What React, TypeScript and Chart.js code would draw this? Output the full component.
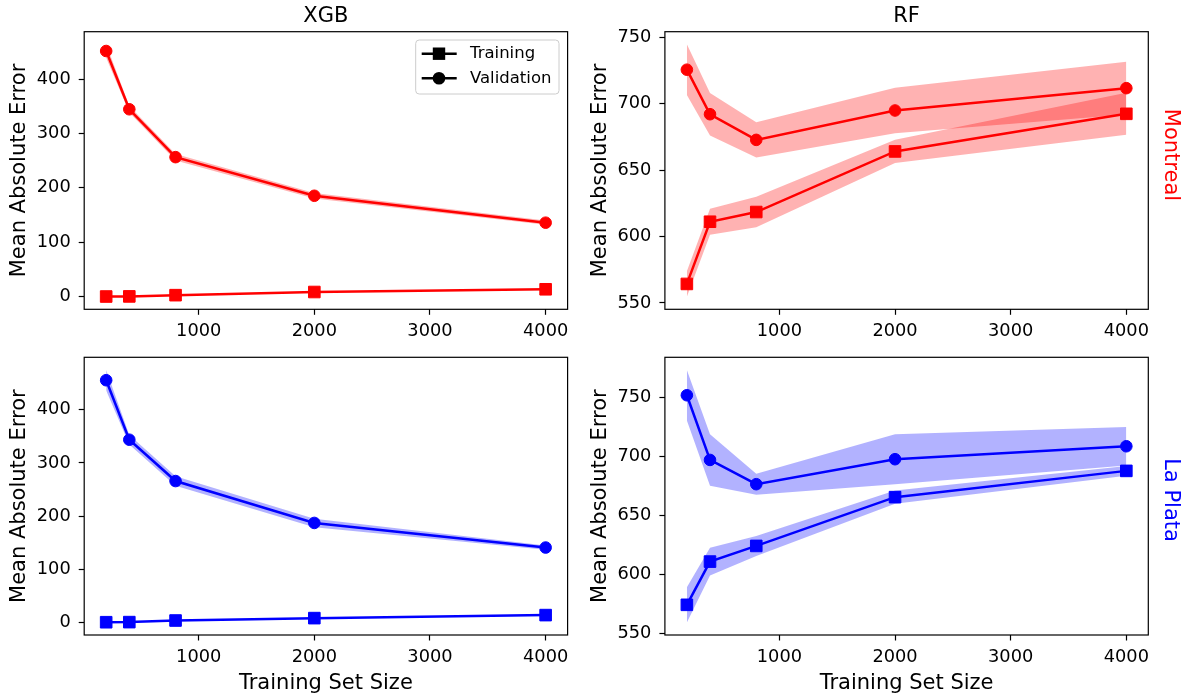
import { useEffect, useRef } from "react";
import { Chart, registerables } from "chart.js";

Chart.register(...registerables);

const FONT = '"DejaVu Sans", "Liberation Sans", sans-serif';

// Training-set sizes on the x axis and the ticks shown for each axis
const trainSizes = [200, 400, 800, 2000, 4000];
const xTicks = [1000, 2000, 3000, 4000];
const xgbTicks = [0, 100, 200, 300, 400];
const rfTicks = [550, 600, 650, 700, 750];

// Montreal: mean absolute error and its standard deviation
const xgbMtlTrain = [0.3, 0.5, 2.8, 8.6, 13.6];
const xgbMtlTrainSd = [0.3, 0.3, 0.5, 0.8, 1.0];
const xgbMtlVal = [451.6, 344.5, 256.5, 185.5, 136.0];
const xgbMtlValSd = [12.3, 6, 6, 5, 4];
const rfMtlTrain = [564.3, 611.1, 618.4, 664.0, 692.3];
const rfMtlTrainSd = [9.6, 9.8, 11.5, 8.8, 15.8];
const rfMtlVal = [725.5, 692.0, 672.7, 694.8, 711.6];
const rfMtlValSd = [19.1, 16.0, 13.3, 17.1, 19.8];

// La Plata: mean absolute error and its standard deviation
const xgbLpTrain = [0.3, 0.5, 3.5, 8.0, 13.7];
const xgbLpTrainSd = [0.3, 0.3, 0.5, 0.8, 1.0];
const xgbLpVal = [455.6, 343.7, 265.9, 187.1, 140.8];
const xgbLpValSd = [19.4, 9, 9, 8, 4];
const rfLpTrain = [574.1, 610.8, 624.1, 665.5, 687.8];
const rfLpTrainSd = [14.9, 11.8, 8.5, 5.6, 4.2];
const rfLpVal = [752.0, 697.1, 676.5, 697.7, 708.7];
const rfLpValSd = [21.5, 21.9, 8.9, 21.2, 16.3];

type Panel = {
  frame: [number, number, number, number]; // plot area: left, top, right, bottom
  color: string;
  band: string;
  train: number[];
  trainSd: number[];
  val: number[];
  valSd: number[];
  yTicks: number[];
  title?: string;
  xLabel?: string;
  rowLabel?: string;
  rowLabelY?: number;
  legend?: boolean;
};

const RED = "#ff0000";
const BLUE = "#0000ff";
const RED_BAND = "rgba(255,0,0,0.3)";
const BLUE_BAND = "rgba(0,0,255,0.3)";

const panels: Panel[] = [
  {
    frame: [84.2, 31.7, 567.6, 309.3],
    color: RED, band: RED_BAND,
    train: xgbMtlTrain, trainSd: xgbMtlTrainSd, val: xgbMtlVal, valSd: xgbMtlValSd,
    yTicks: xgbTicks, title: "XGB", legend: true,
  },
  {
    frame: [664.9, 31.7, 1148.3, 309.3],
    color: RED, band: RED_BAND,
    train: rfMtlTrain, trainSd: rfMtlTrainSd, val: rfMtlVal, valSd: rfMtlValSd,
    yTicks: rfTicks, title: "RF", rowLabel: "Montreal", rowLabelY: 155,
  },
  {
    frame: [84.2, 357.3, 567.6, 635],
    color: BLUE, band: BLUE_BAND,
    train: xgbLpTrain, trainSd: xgbLpTrainSd, val: xgbLpVal, valSd: xgbLpValSd,
    yTicks: xgbTicks, xLabel: "Training Set Size",
  },
  {
    frame: [664.9, 357.3, 1148.3, 635],
    color: BLUE, band: BLUE_BAND,
    train: rfLpTrain, trainSd: rfLpTrainSd, val: rfLpVal, valSd: rfLpValSd,
    yTicks: rfTicks, xLabel: "Training Set Size", rowLabel: "La Plata", rowLabelY: 500,
  },
];

const W = 1186;
const H = 696;
const Y_AXIS_W = 60;
const X_AXIS_H = 30;

function shift(a: number[], s: number[], k: number) {
  return a.map((v, i) => v + k * s[i]);
}

function PanelChart({ p }: { p: Panel }) {
  const ref = useRef<HTMLCanvasElement>(null);

  useEffect(() => {
    if (!ref.current) return;
    const [L, T, R, B] = p.frame;
    const pts = (ys: number[]) => trainSizes.map((x, i) => ({ x, y: ys[i] }));

    const trainHi = shift(p.train, p.trainSd, 1);
    const trainLo = shift(p.train, p.trainSd, -1);
    const valHi = shift(p.val, p.valSd, 1);
    const valLo = shift(p.val, p.valSd, -1);

    // autoscale with 5% margins on both axes
    const yMin0 = Math.min(...trainLo, ...valLo);
    const yMax0 = Math.max(...trainHi, ...valHi);
    const yPad = 0.05 * (yMax0 - yMin0);
    const xMin0 = Math.min(...trainSizes);
    const xMax0 = Math.max(...trainSizes);
    const xPad = 0.05 * (xMax0 - xMin0);

    const bandSet = (data: number[], fill: any) => ({
      data: pts(data),
      fill,
      backgroundColor: p.band,
      borderColor: "rgba(0,0,0,0)",
      borderWidth: 1,
      pointRadius: 0,
      order: 1,
    });

    const lineSet = (label: string, data: number[], style: string, radius: number) => ({
      label,
      data: pts(data),
      fill: false,
      borderColor: p.color,
      backgroundColor: p.color,
      borderWidth: 2.5,
      pointStyle: style,
      pointRadius: radius,
      pointBorderWidth: 1,
      pointBackgroundColor: p.color,
      pointBorderColor: p.color,
      tension: 0,
      order: 0,
    });

    const textPlugin = {
      id: "panelText",
      afterDraw(chart: any) {
        const ctx = chart.ctx as CanvasRenderingContext2D;
        const { left, top, right, bottom } = chart.chartArea;
        const cx = (left + right) / 2;
        const cy = (top + bottom) / 2;
        ctx.save();

        // axes frame
        ctx.strokeStyle = "#000";
        ctx.lineWidth = 1.2;
        ctx.strokeRect(left, top, right - left, bottom - top);

        ctx.fillStyle = "#000";
        ctx.font = `21px ${FONT}`;
        ctx.textBaseline = "alphabetic";
        ctx.textAlign = "center";

        if (p.title) ctx.fillText(p.title, cx, top - 10.2);
        if (p.xLabel) ctx.fillText(p.xLabel, cx, bottom + 53.5);

        ctx.save();
        ctx.translate(left - 59, cy);
        ctx.rotate(-Math.PI / 2);
        ctx.fillText("Mean Absolute Error", 0, 0);
        ctx.restore();

        if (p.rowLabel) {
          ctx.save();
          ctx.translate(right + 16.2, p.rowLabelY ?? cy);
          ctx.rotate(Math.PI / 2);
          ctx.fillStyle = p.color;
          ctx.fillText(p.rowLabel, 0, 0);
          ctx.restore();
        }

        if (p.legend) {
          const bx = right - 8.6 - 143.3;
          const by = top + 8.3;
          const bw = 143.3;
          const bh = 54;
          ctx.beginPath();
          if ((ctx as any).roundRect) (ctx as any).roundRect(bx, by, bw, bh, 3.5);
          else ctx.rect(bx, by, bw, bh);
          ctx.fillStyle = "rgba(255,255,255,0.8)";
          ctx.fill();
          ctx.strokeStyle = "#cccccc";
          ctx.lineWidth = 1;
          ctx.stroke();

          const entries = [
            { label: "Training", marker: "square", y: by + 13.7 },
            { label: "Validation", marker: "circle", y: by + 38.3 },
          ];
          for (const e of entries) {
            ctx.strokeStyle = "#000";
            ctx.lineWidth = 2.5;
            ctx.beginPath();
            ctx.moveTo(bx + 6, e.y);
            ctx.lineTo(bx + 41, e.y);
            ctx.stroke();
            ctx.fillStyle = "#000";
            const mx = bx + 23.3;
            if (e.marker === "square") {
              ctx.fillRect(mx - 6.2, e.y - 6.2, 12.4, 12.4);
            } else {
              ctx.beginPath();
              ctx.arc(mx, e.y, 6.3, 0, Math.PI * 2);
              ctx.fill();
            }
            ctx.font = `16.5px ${FONT}`;
            ctx.textAlign = "left";
            ctx.textBaseline = "middle";
            ctx.fillText(e.label, bx + 54.3, e.y);
          }
        }
        ctx.restore();
      },
    };

    const tickFont = { family: FONT, size: 17.8 };
    const gridOpts = {
      display: true,
      drawOnChartArea: false,
      drawTicks: true,
      tickLength: 5.5,
      tickWidth: 1.2,
      tickColor: "#000",
    };

    const chart = new Chart(ref.current, {
      type: "line",
      data: {
        datasets: [
          lineSet("Training", p.train, "rect", 8.2),
          lineSet("Validation", p.val, "circle", 5.8),
          bandSet(trainHi, "+1"),
          bandSet(trainLo, false),
          bandSet(valHi, "+1"),
          bandSet(valLo, false),
        ] as any,
      },
      options: {
        responsive: false,
        animation: false,
        devicePixelRatio: 1,
        events: [],
        layout: {
          padding: {
            left: L - Y_AXIS_W,
            top: T,
            right: W - R,
            bottom: H - B - X_AXIS_H,
          },
        },
        plugins: {
          legend: { display: false },
          tooltip: { enabled: false },
          title: { display: false },
        },
        scales: {
          x: {
            type: "linear",
            min: xMin0 - xPad,
            max: xMax0 + xPad,
            afterBuildTicks: (s: any) => {
              s.ticks = xTicks.map((v) => ({ value: v }));
            },
            afterFit: (s: any) => {
              s.height = X_AXIS_H;
              s.paddingLeft = 0;
              s.paddingRight = 0;
            },
            grid: gridOpts,
            border: { display: false },
            ticks: {
              color: "#000",
              font: tickFont,
              padding: 6,
              maxRotation: 0,
              autoSkip: false,
              callback: (v: any) => String(v),
            },
          },
          y: {
            type: "linear",
            min: yMin0 - yPad,
            max: yMax0 + yPad,
            afterBuildTicks: (s: any) => {
              s.ticks = p.yTicks.map((v) => ({ value: v }));
            },
            afterFit: (s: any) => {
              s.width = Y_AXIS_W;
              s.paddingTop = 0;
              s.paddingBottom = 0;
            },
            grid: gridOpts,
            border: { display: false },
            ticks: {
              color: "#000",
              font: tickFont,
              padding: 8,
              autoSkip: false,
              callback: (v: any) => String(v),
            },
          },
        },
      } as any,
      plugins: [textPlugin],
    });

    return () => chart.destroy();
  }, [p]);

  return (
    <canvas
      ref={ref}
      width={W}
      height={H}
      style={{ position: "absolute", left: 0, top: 0, width: W, height: H, display: "block" }}
    />
  );
}

export default function App() {
  return (
    <div
      style={{
        position: "absolute",
        left: 0,
        top: 0,
        width: W,
        height: H,
        background: "#ffffff",
        overflow: "hidden",
      }}
    >
      {panels.map((p, i) => (
        <PanelChart key={i} p={p} />
      ))}
    </div>
  );
}
